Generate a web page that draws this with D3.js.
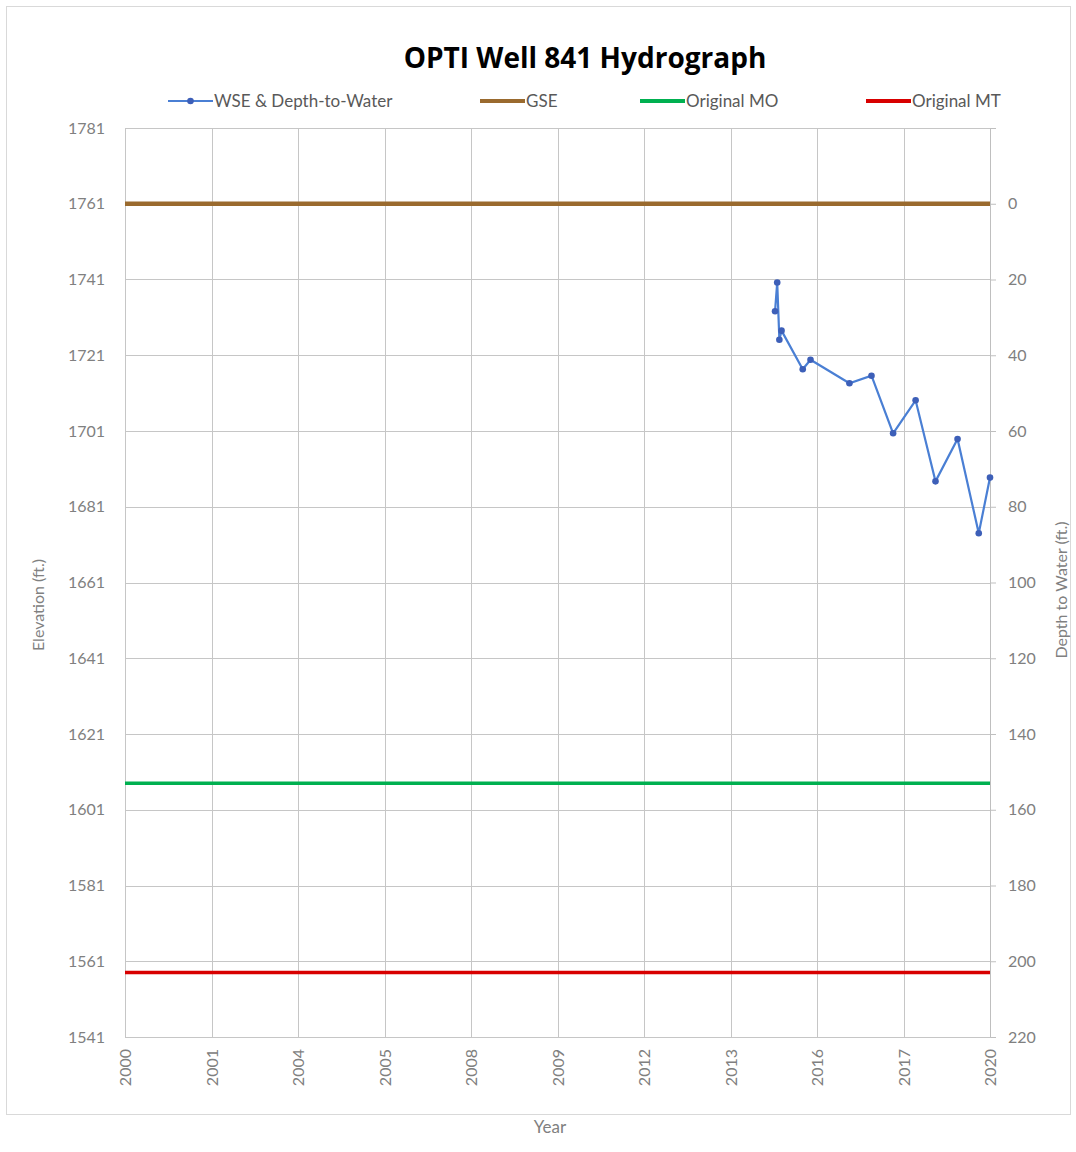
<!DOCTYPE html>
<html>
<head>
<meta charset="utf-8">
<script src="https://cdn.jsdelivr.net/npm/d3@7"></script>
<style>
  body { margin: 0; background: #fff; }
  svg text { font-family: Lato, "Open Sans", sans-serif; }
</style>
</head>
<body>
<div id="chart"></div>
<script>
// tick labels as printed under the x axis (Excel date axis, 2-year steps)
const xTickLabels = ['2000', '2001', '2004', '2005', '2008', '2009', '2012', '2013', '2016', '2017', '2020'];
const xTickValues = [2000, 2002, 2004, 2006, 2008, 2010, 2012, 2014, 2016, 2018, 2020];

const elevTicks = [1541, 1561, 1581, 1601, 1621, 1641, 1661, 1681, 1701, 1721, 1741, 1761, 1781];
const depthTicks = [0, 20, 40, 60, 80, 100, 120, 140, 160, 180, 200, 220];

// measurement dates (decimal year) and water surface elevation (ft)
const wseDates = [2015.03, 2015.08, 2015.13, 2015.18, 2015.67, 2015.85, 2016.75, 2017.26, 2017.76, 2018.28, 2018.74, 2019.25, 2019.74, 2020.0];
const wseElev = [1732.6, 1740.2, 1725.1, 1727.5, 1717.3, 1719.8, 1713.6, 1715.6, 1700.4, 1709.1, 1687.7, 1698.9, 1674.0, 1688.7];

const gse = 1761;
const originalMO = 1608;
const originalMT = 1558;

const legendItems = ['WSE & Depth-to-Water', 'GSE', 'Original MO', 'Original MT'];
const legendColors = ['#4a7fd4', '#9a6a2e', '#00b050', '#d80000'];

const W = 1076, H = 1152;
const margin = {top: 128, right: 86, bottom: 115, left: 125};

const svg = d3.select('#chart').append('svg')
  .attr('width', W)
  .attr('height', H);

// outer chart frame
svg.append('rect')
  .attr('x', 6.5).attr('y', 6.5)
  .attr('width', 1064).attr('height', 1108)
  .attr('fill', 'none')
  .attr('stroke', '#d9d9d9');

const x = d3.scaleLinear()
  .domain([2000, 2020])
  .range([margin.left, W - margin.right]);

const y = d3.scaleLinear()
  .domain([1541, 1781])
  .range([1037, margin.top]);

// depth to water, measured down from ground surface
const yDepth = d3.scaleLinear()
  .domain([gse - 1541, gse - 1781])
  .range([1037, margin.top]);

// gridlines
svg.append('g')
  .selectAll('line')
  .data(elevTicks)
  .join('line')
  .attr('x1', x(2000)).attr('x2', x(2020))
  .attr('y1', d => Math.round(y(d)) + 0.5).attr('y2', d => Math.round(y(d)) + 0.5)
  .attr('stroke', '#c6c6c6');

svg.append('g')
  .selectAll('line')
  .data(xTickValues)
  .join('line')
  .attr('x1', d => Math.round(x(d)) + 0.5).attr('x2', d => Math.round(x(d)) + 0.5)
  .attr('y1', y(1781)).attr('y2', y(1541))
  .attr('stroke', '#c6c6c6');

// left axis labels
const leftAxis = svg.append('g')
  .attr('transform', `translate(${x(2000)},0)`)
  .call(d3.axisLeft(y).tickValues(elevTicks).tickFormat(d3.format('d')).tickSize(0).tickPadding(20));
leftAxis.select('.domain').attr('stroke', '#c6c6c6');
leftAxis.selectAll('text')
  .attr('fill', '#808080')
  .style('font-size', '16px');

// right axis
const rightAxis = svg.append('g')
  .attr('transform', `translate(${x(2020)},0)`)
  .call(d3.axisRight(yDepth).tickValues(depthTicks).tickSize(6).tickPadding(12));
rightAxis.select('.domain').attr('stroke', '#bfbfbf');
rightAxis.selectAll('.tick line').attr('stroke', '#bfbfbf');
rightAxis.selectAll('text')
  .attr('fill', '#808080')
  .style('font-size', '16px');

// bottom axis
const bottomAxis = svg.append('g')
  .attr('transform', `translate(0,${y(1541)})`)
  .call(d3.axisBottom(x)
    .tickValues(xTickValues)
    .tickFormat((d, i) => xTickLabels[i])
    .tickSize(0));
bottomAxis.select('.domain').attr('stroke', '#c6c6c6');
bottomAxis.selectAll('text')
  .attr('fill', '#808080')
  .style('font-size', '16px')
  .attr('transform', 'rotate(-90)')
  .attr('text-anchor', 'end')
  .attr('dy', '0.35em')
  .attr('x', -12)
  .attr('y', 0);

// reference lines
const refLines = [gse, originalMO, originalMT];
svg.append('g')
  .selectAll('line')
  .data(refLines)
  .join('line')
  .attr('x1', x(2000)).attr('x2', x(2020))
  .attr('y1', d => y(d)).attr('y2', d => y(d))
  .attr('stroke', (d, i) => legendColors[i + 1])
  .attr('stroke-width', (d, i) => i === 0 ? 4.5 : 3.5);

// WSE series
const wse = wseDates.map((d, i) => ({date: d, elev: wseElev[i]}));
const line = d3.line()
  .x(d => x(d.date))
  .y(d => y(d.elev));

svg.append('path')
  .datum(wse)
  .attr('d', line)
  .attr('fill', 'none')
  .attr('stroke', legendColors[0])
  .attr('stroke-width', 2.2);

svg.append('g')
  .selectAll('circle')
  .data(wse)
  .join('circle')
  .attr('cx', d => x(d.date))
  .attr('cy', d => y(d.elev))
  .attr('r', 3.3)
  .attr('fill', '#3d5fb8');

// title
svg.append('text')
  .attr('x', 585).attr('y', 68)
  .attr('text-anchor', 'middle')
  .style('font-family', '"Open Sans", sans-serif')
  .style('font-weight', 'bold')
  .style('font-size', '28px')
  .attr('fill', '#000')
  .text('OPTI Well 841 Hydrograph');

// legend
const legendX = [168, 480, 640, 866];
const legend = svg.append('g');
legendItems.forEach((name, i) => {
  const g = legend.append('g').attr('transform', `translate(${legendX[i]},101)`);
  g.append('line')
    .attr('x1', 0).attr('x2', 45)
    .attr('stroke', legendColors[i])
    .attr('stroke-width', i === 0 ? 2.2 : 4);
  if (i === 0) {
    g.append('circle').attr('cx', 22.5).attr('r', 3.3).attr('fill', '#3d5fb8');
  }
  g.append('text')
    .attr('x', 46).attr('dy', '0.35em')
    .attr('fill', '#595959')
    .style('font-size', '17px')
    .text(name);
});

// axis titles
svg.append('text')
  .attr('transform', 'translate(44,605) rotate(-90)')
  .attr('text-anchor', 'middle')
  .attr('fill', '#808080')
  .style('font-size', '16px')
  .text('Elevation (ft.)');

svg.append('text')
  .attr('transform', 'translate(1067,590) rotate(-90)')
  .attr('text-anchor', 'middle')
  .attr('fill', '#808080')
  .style('font-size', '16px')
  .text('Depth to Water (ft.)');

svg.append('text')
  .attr('x', 550).attr('y', 1133)
  .attr('text-anchor', 'middle')
  .attr('fill', '#808080')
  .style('font-size', '17px')
  .text('Year');
</script>
</body>
</html>
